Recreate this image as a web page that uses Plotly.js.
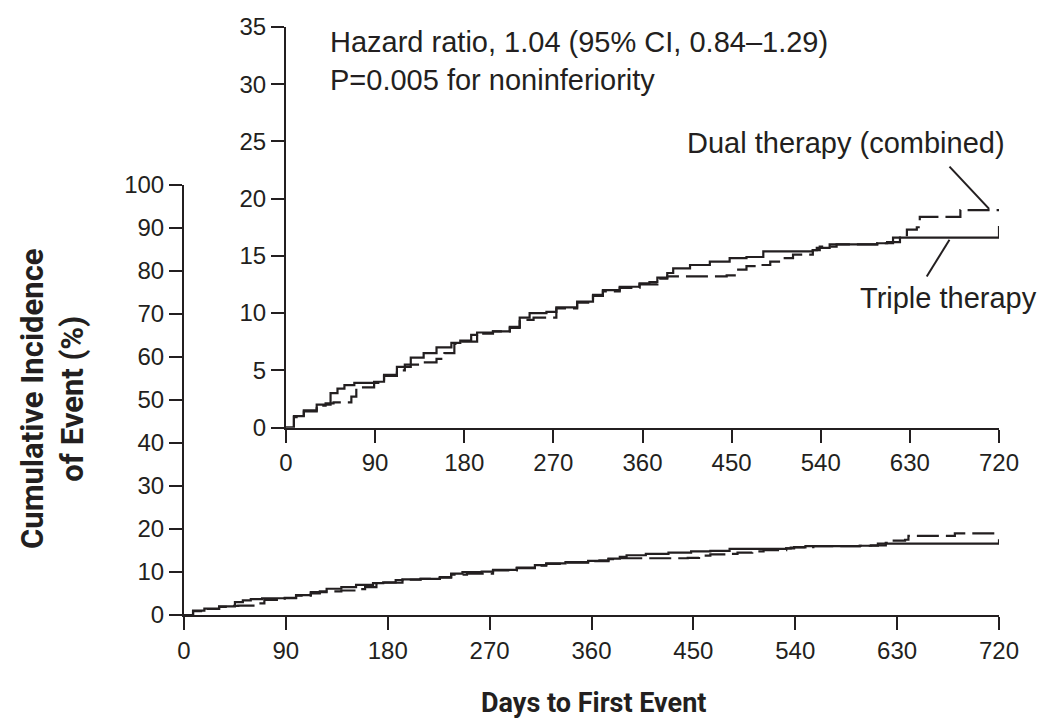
<!DOCTYPE html>
<html>
<head>
<meta charset="utf-8">
<script src="https://cdn.plot.ly/plotly-3.0.1.min.js"></script>
<style>html,body{margin:0;padding:0;background:#fff;}#chart{width:1041px;height:721px;}</style>
</head>
<body>
<div id="chart"></div>
<script>
// ---- data ----
const tripleDays = [0, 8, 18, 31, 45, 52, 59, 69, 89, 99, 112, 126, 139, 152, 167, 176, 187, 193, 209, 226, 236, 246, 263, 273, 294, 310, 320, 337, 357, 367, 375, 385, 391, 408, 428, 448, 465, 482, 532, 536, 549, 580, 597, 607, 620, 719, 720];
const tripleValues = [0, 1.0, 1.5, 2.0, 3.0, 3.4, 3.7, 3.9, 4.0, 4.6, 5.3, 6.1, 6.5, 7.0, 7.4, 7.6, 8.1, 8.3, 8.4, 8.8, 9.6, 10.0, 10.1, 10.5, 11.0, 11.6, 12.0, 12.3, 12.6, 12.7, 13.1, 13.5, 13.9, 14.2, 14.5, 14.8, 14.9, 15.4, 15.5, 15.7, 16.0, 16.0, 16.1, 16.2, 16.6, 16.6, 17.6];
const dualDays = [0, 8, 18, 31, 40, 48, 66, 71, 89, 99, 112, 120, 139, 152, 160, 170, 176, 193, 209, 226, 236, 250, 273, 294, 310, 320, 337, 357, 375, 385, 425, 445, 455, 465, 479, 489, 502, 512, 532, 539, 556, 597, 613, 620, 627, 637, 640, 681, 720];
const dualValues = [0, 0.9, 1.4, 1.9, 2.1, 2.2, 2.7, 3.5, 3.9, 4.5, 5.0, 5.5, 5.7, 6.0, 6.5, 7.3, 7.5, 8.2, 8.4, 8.7, 9.4, 9.6, 10.4, 10.9, 11.5, 11.9, 12.2, 12.5, 13.0, 13.2, 13.2, 13.3, 13.8, 14.1, 14.2, 14.5, 14.8, 15.1, 15.5, 15.8, 16.0, 16.1, 16.6, 16.8, 17.3, 17.5, 18.4, 19.0, 19.0];
const seriesNames = ["Triple therapy", "Dual therapy (combined)"];
const xTicks = [0, 90, 180, 270, 360, 450, 540, 630, 720];
const mainYTicks = [0, 10, 20, 30, 40, 50, 60, 70, 80, 90, 100];
const insetYTicks = [0, 5, 10, 15, 20, 25, 30, 35];
const xTitle = "Days to First Event";
const yTitle = "Cumulative Incidence<br>of Event (%)";
const statsText = "Hazard ratio, 1.04 (95% CI, 0.84\u20131.29)<br>P=0.005 for noninferiority";

// ---- layout helpers (pixel -> paper) ----
const W = 1041, H = 721;
const px = v => v / W;
const py = v => 1 - v / H;
const ink = "#231f20";
const regFont = "Liberation Sans, Arial, sans-serif";
const boldFont = "Roboto, Liberation Sans, Arial, sans-serif";

const lineSolid = {color: ink, width: 2.2, shape: "hv", dash: "solid"};
const lineDash = {color: ink, width: 2.2, shape: "hv", dash: "22px,7px"};

const traces = [
  {x: tripleDays, y: tripleValues, xaxis: "x", yaxis: "y", mode: "lines", line: lineSolid, name: seriesNames[0], cliponaxis: false, hoverinfo: "skip"},
  {x: dualDays, y: dualValues, xaxis: "x", yaxis: "y", mode: "lines", line: lineDash, name: seriesNames[1], cliponaxis: false, hoverinfo: "skip"},
  {x: tripleDays, y: tripleValues, xaxis: "x2", yaxis: "y2", mode: "lines", line: lineSolid, name: seriesNames[0], cliponaxis: false, hoverinfo: "skip"},
  {x: dualDays, y: dualValues, xaxis: "x2", yaxis: "y2", mode: "lines", line: lineDash, name: seriesNames[1], cliponaxis: false, hoverinfo: "skip"}
];

const axisCommon = {
  showline: true, linecolor: ink, linewidth: 2, mirror: false,
  showgrid: false, zeroline: false,
  ticks: "outside", ticklen: 13, tickwidth: 2, tickcolor: ink,
  tickfont: {family: regFont, size: 24, color: ink},
  fixedrange: true
};

const layout = {
  width: W, height: H,
  margin: {l: 0, r: 0, t: 0, b: 0},
  paper_bgcolor: "#fff", plot_bgcolor: "rgba(0,0,0,0)",
  showlegend: false,
  xaxis: Object.assign({}, axisCommon, {domain: [px(184), px(999)], range: [0, 720], tickvals: xTicks, anchor: "y"}),
  yaxis: Object.assign({}, axisCommon, {domain: [py(615), py(185)], range: [0, 100], tickvals: mainYTicks, anchor: "x"}),
  xaxis2: Object.assign({}, axisCommon, {domain: [px(286), px(999)], range: [0, 720], tickvals: xTicks, anchor: "y2"}),
  yaxis2: Object.assign({}, axisCommon, {domain: [py(427.5), py(27)], range: [0, 35], tickvals: insetYTicks, anchor: "x2"}),
  annotations: [
    {xref: "paper", yref: "paper", x: px(328), y: py(61), xanchor: "left", yanchor: "middle", align: "left", showarrow: false,
     text: statsText, font: {family: regFont, size: 29, color: ink}},
    {xref: "paper", yref: "paper", x: px(846), y: py(143), xanchor: "center", yanchor: "middle", showarrow: false,
     text: seriesNames[1], font: {family: regFont, size: 29, color: ink}},
    {xref: "paper", yref: "paper", x: px(948), y: py(298), xanchor: "center", yanchor: "middle", showarrow: false,
     text: seriesNames[0], font: {family: regFont, size: 29, color: ink}},
    {xref: "paper", yref: "paper", x: px(593), y: py(703), xanchor: "center", yanchor: "middle", showarrow: false,
     text: "<b>" + xTitle + "</b>", font: {family: boldFont, size: 27, color: ink}},
    {xref: "paper", yref: "paper", x: px(52), y: py(399), xanchor: "center", yanchor: "middle", showarrow: false, textangle: -90,
     text: "<b>" + yTitle + "</b>", font: {family: boldFont, size: 31, color: ink}}
  ],
  shapes: [
    {type: "line", xref: "x2", yref: "y2", x0: 670, y0: 22.8, x1: 710, y1: 19.1, line: {color: ink, width: 2}},
    {type: "line", xref: "x2", yref: "y2", x0: 670, y0: 16.4, x1: 647, y1: 13.2, line: {color: ink, width: 2}}
  ]
};

Plotly.newPlot("chart", traces, layout, {staticPlot: true, displayModeBar: false});
</script>
</body>
</html>
